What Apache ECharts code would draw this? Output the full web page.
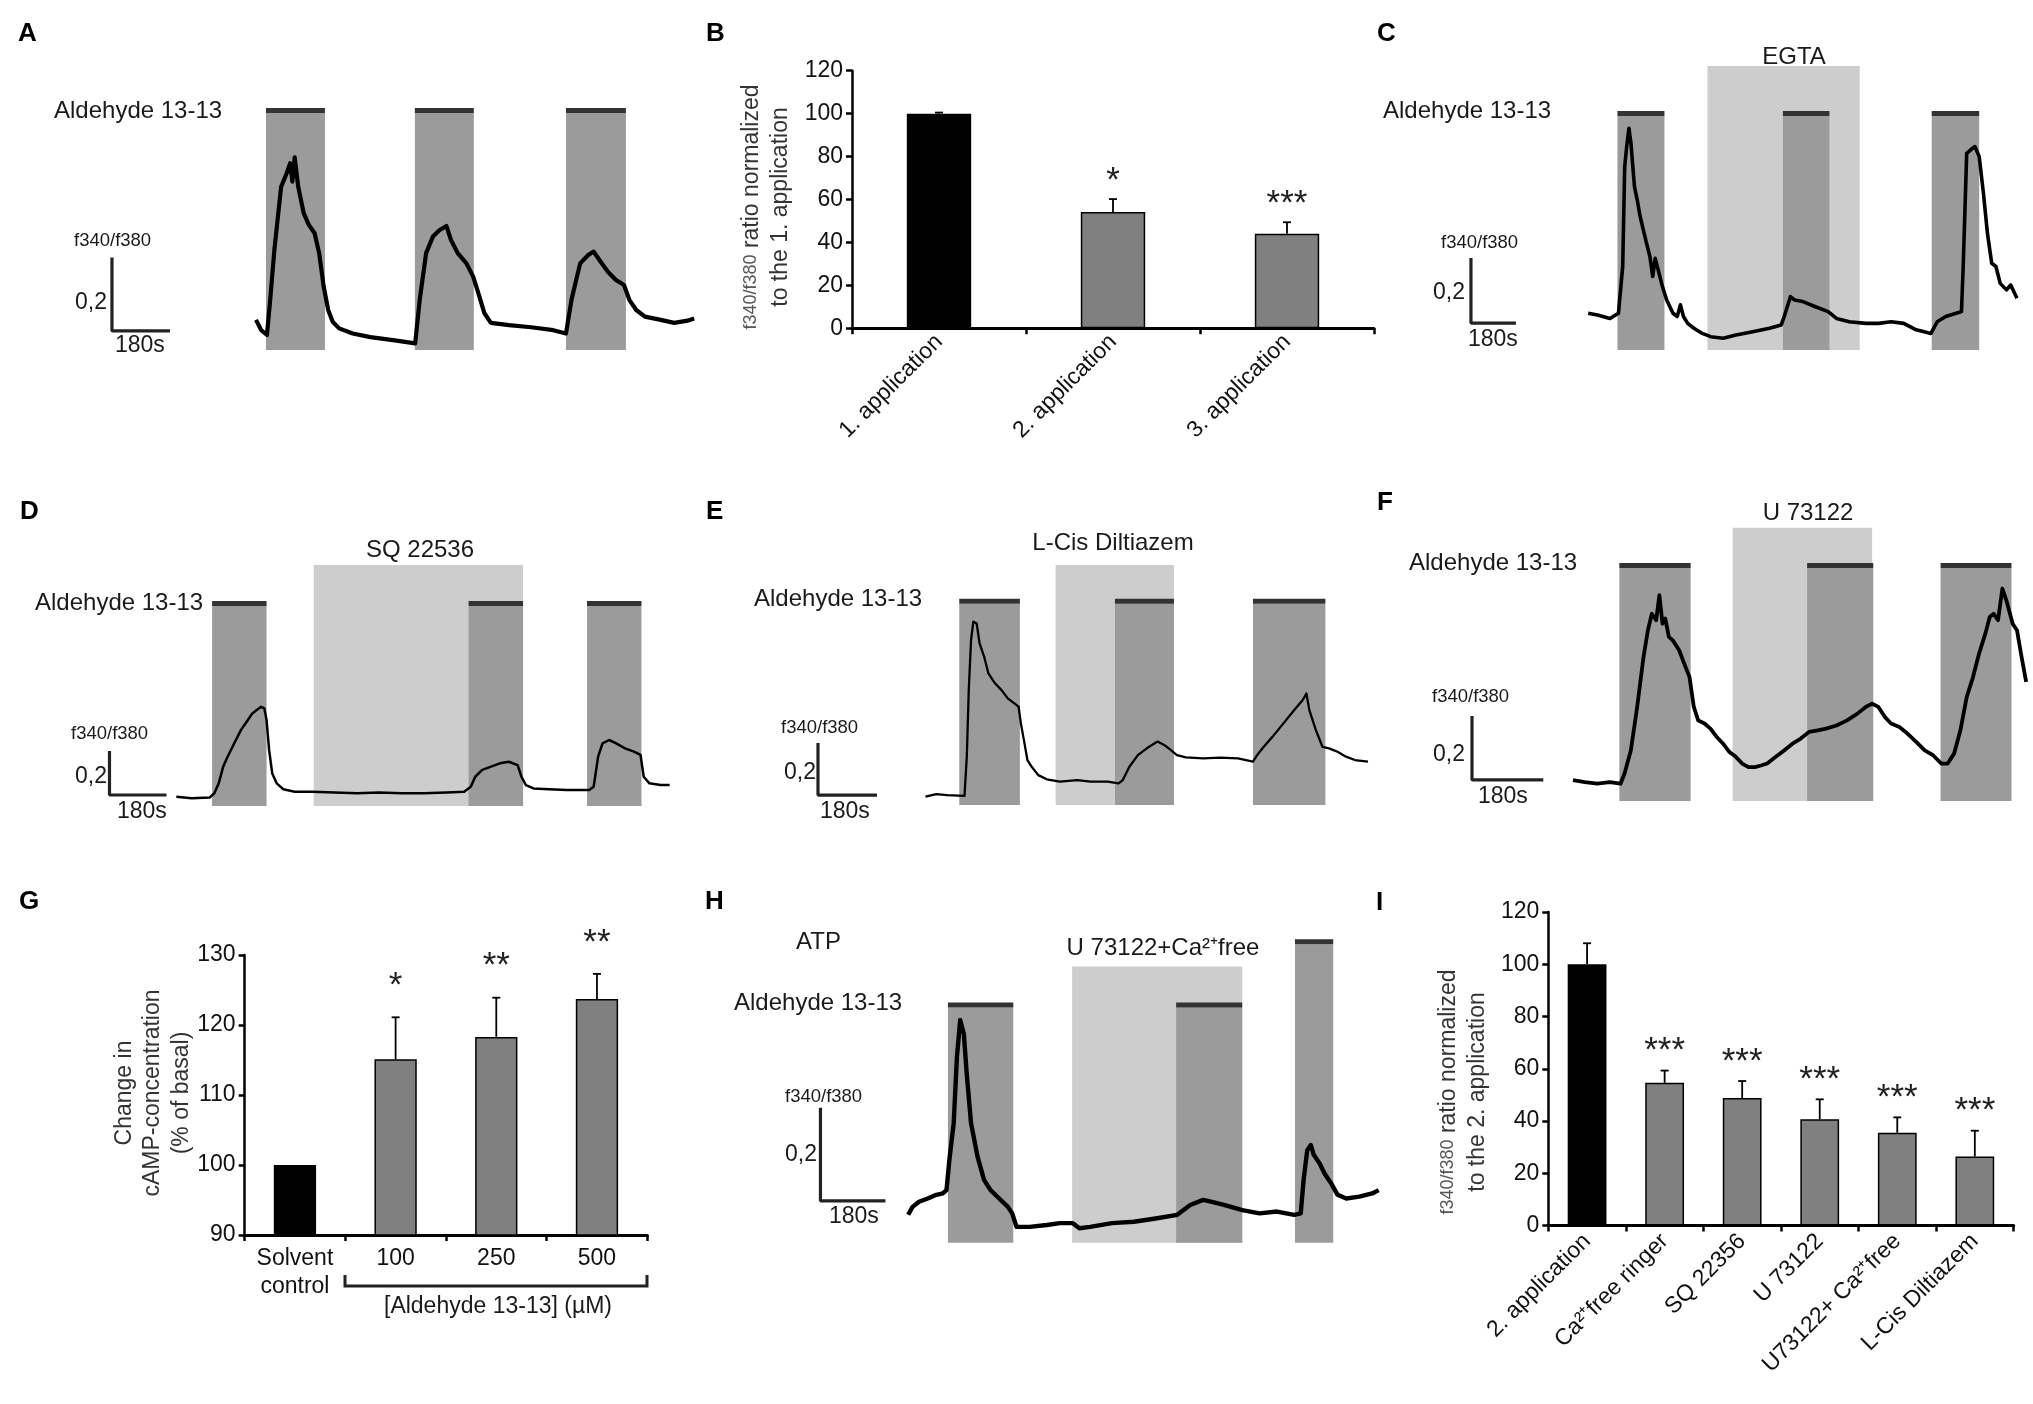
<!DOCTYPE html>
<html>
<head>
<meta charset="utf-8">
<style>
html,body{margin:0;padding:0;background:#fff}
#fig{width:2033px;height:1404px}
</style>
<script src="https://cdn.jsdelivr.net/npm/echarts@6/dist/echarts.min.js"></script>
</head>
<body>
<div id="fig"></div>
<script>
// traces: [time (s), f340/f380 change], application periods in s
var aTrace = [[0,0.082],[16,0.054],[34,0.041],[44,0.136],[57,0.273],[78,0.445],[95,0.481],[106,0.509],[113,0.459],[120,0.525],[131,0.445],[148,0.373],[164,0.341],[182,0.318],[196,0.264],[210,0.173],[224,0.109],[238,0.077],[258,0.059],[300,0.045],[355,0.035],[425,0.027],[494,0.018],[508,0.136],[528,0.264],[549,0.309],[570,0.327],[591,0.338],[605,0.300],[626,0.264],[653,0.236],[674,0.200],[690,0.155],[709,0.100],[729,0.074],[785,0.068],[854,0.062],[923,0.054],[962,0.045],[979,0.136],[1006,0.236],[1031,0.259],[1048,0.268],[1069,0.241],[1092,0.213],[1117,0.191],[1142,0.177],[1159,0.136],[1180,0.109],[1207,0.091],[1256,0.082],[1298,0.074],[1339,0.080],[1360,0.086]];
var aApps = [[31,214],[493,676],[962,1148]];

var cTrace = [[0,0.113],[37,0.108],[87,0.097],[121,0.113],[138,0.257],[146,0.564],[154,0.626],[163,0.682],[171,0.636],[185,0.503],[196,0.462],[208,0.410],[230,0.339],[247,0.287],[258,0.226],[268,0.282],[280,0.246],[297,0.195],[314,0.154],[339,0.113],[356,0.103],[369,0.139],[381,0.103],[398,0.082],[423,0.067],[456,0.051],[490,0.041],[540,0.036],[591,0.046],[658,0.056],[725,0.067],[772,0.077],[784,0.103],[809,0.164],[826,0.154],[859,0.149],[909,0.133],[960,0.118],[993,0.097],[1044,0.087],[1111,0.082],[1161,0.082],[1212,0.087],[1262,0.082],[1312,0.062],[1371,0.051],[1396,0.087],[1430,0.103],[1472,0.113],[1493,0.118],[1500,0.257],[1514,0.605],[1530,0.616],[1547,0.626],[1564,0.595],[1581,0.482],[1597,0.359],[1614,0.267],[1631,0.257],[1648,0.205],[1673,0.185],[1690,0.200],[1715,0.159]];
var cApps = [[117,305],[779,965],[1374,1564]];
var cBox = [477,1086];

var dTrace = [[0,0.042],[49,0.035],[106,0.039],[120,0.058],[134,0.103],[148,0.179],[162,0.224],[183,0.285],[204,0.345],[226,0.391],[240,0.421],[254,0.436],[268,0.451],[278,0.444],[285,0.391],[293,0.255],[303,0.148],[317,0.103],[338,0.076],[374,0.065],[430,0.065],[500,0.061],[571,0.058],[641,0.061],[712,0.058],[782,0.058],[853,0.061],[909,0.065],[930,0.088],[944,0.133],[966,0.164],[994,0.179],[1022,0.194],[1050,0.201],[1078,0.186],[1090,0.133],[1104,0.095],[1128,0.080],[1177,0.076],[1233,0.073],[1304,0.073],[1318,0.088],[1332,0.224],[1346,0.285],[1367,0.300],[1389,0.285],[1417,0.262],[1445,0.247],[1466,0.232],[1476,0.133],[1494,0.103],[1529,0.095],[1558,0.095]];
var dApps = [[113,285],[923,1095],[1297,1469]];
var dBox = [434,1095];

var eTrace = [[0,0.032],[33,0.042],[66,0.038],[119,0.035],[126,0.186],[132,0.442],[139,0.635],[146,0.705],[156,0.699],[165,0.622],[179,0.570],[192,0.506],[212,0.468],[232,0.442],[251,0.410],[271,0.391],[284,0.378],[291,0.314],[302,0.237],[311,0.173],[324,0.147],[344,0.115],[370,0.099],[410,0.090],[463,0.096],[503,0.090],[556,0.090],[589,0.083],[602,0.096],[622,0.147],[648,0.192],[675,0.218],[708,0.244],[728,0.231],[748,0.212],[767,0.192],[794,0.183],[847,0.179],[900,0.182],[953,0.179],[999,0.167],[1012,0.192],[1032,0.224],[1059,0.263],[1092,0.314],[1125,0.365],[1151,0.404],[1162,0.429],[1171,0.365],[1191,0.288],[1211,0.224],[1231,0.218],[1257,0.205],[1283,0.186],[1310,0.173],[1350,0.167]];
var eApps = [[103,288],[578,758],[999,1220]];
var eBox = [397,758];

var fTrace = [[0,0.065],[30,0.059],[61,0.054],[93,0.059],[120,0.054],[130,0.085],[146,0.158],[162,0.294],[178,0.450],[189,0.533],[199,0.585],[210,0.565],[218,0.643],[226,0.554],[233,0.570],[242,0.513],[252,0.502],[268,0.471],[284,0.419],[294,0.388],[305,0.294],[316,0.252],[332,0.242],[347,0.226],[363,0.200],[379,0.179],[395,0.153],[411,0.138],[427,0.117],[443,0.106],[459,0.106],[475,0.111],[490,0.117],[512,0.138],[533,0.158],[554,0.179],[575,0.195],[596,0.216],[618,0.221],[639,0.226],[665,0.236],[692,0.252],[718,0.273],[739,0.294],[755,0.304],[771,0.294],[787,0.263],[803,0.242],[824,0.231],[845,0.210],[867,0.184],[888,0.158],[909,0.143],[930,0.117],[946,0.117],[962,0.148],[978,0.221],[994,0.325],[1010,0.388],[1025,0.460],[1041,0.523],[1052,0.575],[1062,0.585],[1073,0.565],[1084,0.664],[1094,0.627],[1110,0.554],[1121,0.533],[1131,0.460],[1144,0.372]];
var fApps = [[117,297],[591,758],[928,1107]];
var fBox = [403,755];

var hTrace = [[0,0.060],[12,0.077],[30,0.088],[54,0.095],[78,0.103],[96,0.106],[106,0.113],[114,0.178],[126,0.257],[135,0.400],[144,0.479],[154,0.450],[162,0.364],[174,0.257],[192,0.185],[210,0.135],[228,0.113],[252,0.095],[276,0.077],[288,0.063],[300,0.034],[336,0.034],[384,0.038],[420,0.042],[456,0.042],[474,0.031],[504,0.034],[564,0.042],[625,0.045],[685,0.052],[745,0.060],[781,0.081],[817,0.092],[841,0.088],[877,0.081],[925,0.070],[973,0.063],[1021,0.067],[1069,0.060],[1087,0.063],[1095,0.135],[1105,0.199],[1115,0.210],[1123,0.189],[1139,0.171],[1153,0.149],[1171,0.128],[1189,0.103],[1213,0.095],[1249,0.099],[1285,0.106],[1303,0.113]];
var hApps = [[110,291],[742,925]];
var hAtp = [[1071,1177]];
var hBox = [454,925];

// bar panels
var bCats = ['1. application', '2. application', '3. application'];
var bMean = [100, 54.2, 44.1];
var bErr = [0.5, 6, 5.3];
var bStars = ['', '*', '***'];

var gCats = ['Solvent\ncontrol', '100', '250', '500'];
var gMean = [100, 115.1, 118.3, 123.7];
var gErr = [0, 6, 5.6, 3.6];
var gStars = ['', '*', '**', '**'];

var iCats = ['2. application', 'Ca\u00b2\u207afree ringer', 'SQ 22356', 'U 73122', 'U73122+ Ca\u00b2\u207afree', 'L-Cis Diltiazem'];
var iMean = [100, 54.6, 48.8, 40.7, 35.5, 26.4];
var iErr = [8, 4.7, 6.5, 7.6, 5.9, 9.9];
var iStars = ['', '***', '***', '***', '***', '***'];

var SCALE_T = 180, SCALE_R = 0.2;
var FONT = '"Liberation Sans", Arial, sans-serif';
var GRAY = '#9b9b9b', LIGHT = '#cdcdcd', STRIP = '#333333';

// trace panel placement (pixel anchors and scales)
var traces = [
  {g: 0, data: aTrace, apps: aApps, x0: 256, y0: 350, pxs: 58 / 180, pxu: 367, tmin: -480, tmax: 1370, rmax: 0.66, appTop: 0.646, lw: 4.2, sb: [-447, 0.052]},
  {g: 2, data: cTrace, apps: cApps, box: cBox, x0: 1588.2, y0: 350, pxs: 45 / 180, pxu: 325, tmin: -500, tmax: 1760, rmax: 0.88, appTop: 0.720, boxTop: 0.874, lw: 3.6, sb: [-469, 0.083]},
  {g: 3, data: dTrace, apps: dApps, box: dBox, x0: 176.3, y0: 806, pxs: 57 / 180, pxu: 220, tmin: -230, tmax: 1570, rmax: 1.10, appTop: 0.909, boxTop: 1.095, lw: 2.5, sb: [-211, 0.05]},
  {g: 4, data: eTrace, apps: eApps, box: eBox, x0: 925.5, y0: 805, pxs: 59 / 180, pxu: 260, tmin: -340, tmax: 1360, rmax: 0.93, appTop: 0.774, boxTop: 0.923, lw: 2.3, sb: [-328, 0.038]},
  {g: 5, data: fTrace, apps: fApps, box: fBox, x0: 1573, y0: 801, pxs: 71.3 / 180, pxu: 320, tmin: -270, tmax: 1150, rmax: 0.86, appTop: 0.728, boxTop: 0.854, lw: 3.8, sb: [-255, 0.066]},
  {g: 7, data: hTrace, apps: hApps, box: hBox, extra: hAtp, extraTop: 0.642, x0: 908.2, y0: 1242.7, pxs: 65 / 180, pxu: 465, tmin: -250, tmax: 1310, rmax: 0.66, appTop: 0.506, boxTop: 0.594, lw: 4.4, sb: [-243, 0.090]}
];

var grids = [], xAxes = [], yAxes = [], series = [];
function setGrid(i, g) { g.outerBoundsMode = 'none'; g.containLabel = false; grids[i] = g; }

function appAreas(list, top, pxu) {
  var out = [];
  list.forEach(function (p) {
    out.push([{xAxis: p[0], yAxis: 0, itemStyle: {color: GRAY, opacity: 1}}, {xAxis: p[1], yAxis: top}]);
  });
  list.forEach(function (p) {
    out.push([{xAxis: p[0], yAxis: top, itemStyle: {color: STRIP, opacity: 1}}, {xAxis: p[1], yAxis: top + 5 / pxu}]);
  });
  return out;
}

traces.forEach(function (L) {
  setGrid(L.g, {left: L.x0 + L.tmin * L.pxs, top: L.y0 - L.rmax * L.pxu, width: (L.tmax - L.tmin) * L.pxs, height: L.rmax * L.pxu});
  xAxes[L.g] = {type: 'value', gridIndex: L.g, min: L.tmin, max: L.tmax, show: false};
  yAxes[L.g] = {type: 'value', gridIndex: L.g, min: 0, max: L.rmax, show: false};
  var areas = [];
  if (L.box) areas.push([{xAxis: L.box[0], yAxis: 0, itemStyle: {color: LIGHT, opacity: 1}}, {xAxis: L.box[1], yAxis: L.boxTop}]);
  areas = areas.concat(appAreas(L.apps, L.appTop, L.pxu));
  if (L.extra) areas = areas.concat(appAreas(L.extra, L.extraTop, L.pxu));
  series.push({
    type: 'line', xAxisIndex: L.g, yAxisIndex: L.g, data: L.data, symbol: 'none', silent: true, z: 5,
    lineStyle: {color: '#000', width: L.lw, join: 'round'},
    markArea: {silent: true, label: {show: false}, data: areas}
  });
  series.push({
    type: 'line', xAxisIndex: L.g, yAxisIndex: L.g, symbol: 'none', silent: true, z: 5,
    data: [[L.sb[0], L.sb[1] + SCALE_R], [L.sb[0], L.sb[1]], [L.sb[0] + SCALE_T, L.sb[1]]],
    lineStyle: {color: '#222', width: 3.2}
  });
});

function errRender(stars, gap) {
  return function (params, api) {
    var x = api.value(0), lo = api.value(1), hi = api.value(2);
    var p0 = api.coord([x, lo]), p1 = api.coord([x, hi]);
    var ch = [];
    if (hi > lo) {
      ch.push({type: 'line', shape: {x1: p0[0], y1: p0[1], x2: p1[0], y2: p1[1]}, style: {stroke: '#000', lineWidth: 1.8}});
      ch.push({type: 'line', shape: {x1: p1[0] - 4, y1: p1[1], x2: p1[0] + 4, y2: p1[1]}, style: {stroke: '#000', lineWidth: 1.8}});
    }
    var s = stars[params.dataIndex];
    if (s) ch.push({type: 'text', style: {text: s, x: p1[0], y: p1[1] - gap + 8, align: 'center', verticalAlign: 'middle', textAlign: 'center', textVerticalAlign: 'middle', font: '35px ' + FONT, fill: '#222'}});
    return {type: 'group', children: ch};
  };
}

function barPanel(gi, box, cats, mean, err, stars, o) {
  setGrid(gi, box);
  xAxes[gi] = {
    type: 'category', gridIndex: gi, data: cats,
    axisLine: {show: true, lineStyle: {color: '#000', width: 3}},
    axisTick: {show: true, length: 6, interval: 0, lineStyle: {color: '#000', width: 2.5}},
    axisLabel: {interval: 0, rotate: o.rotate, margin: o.xMargin, fontSize: o.fs, fontFamily: FONT, color: '#111', lineHeight: 28},
    splitLine: {show: false}
  };
  yAxes[gi] = {
    type: 'value', gridIndex: gi, min: o.min, max: o.max, interval: o.step,
    axisLine: {show: true, lineStyle: {color: '#000', width: 2.5}},
    axisTick: {show: true, length: 6, lineStyle: {color: '#000', width: 2.5}},
    axisLabel: {margin: 9, fontSize: o.fs, fontFamily: FONT, color: '#111'},
    splitLine: {show: false}
  };
  series.push({
    type: 'bar', xAxisIndex: gi, yAxisIndex: gi, data: mean, barWidth: o.bw, silent: true,
    itemStyle: {color: function (p) { return p.dataIndex === 0 ? '#000' : '#808080'; }, borderColor: '#000', borderWidth: 1.5}
  });
  series.push({
    type: 'custom', xAxisIndex: gi, yAxisIndex: gi, silent: true, z: 4,
    data: mean.map(function (m, i) { return [i, m, m + err[i]]; }),
    renderItem: errRender(stars, o.gap)
  });
}

barPanel(1, {left: 852, top: 70.7, width: 522, height: 257.6}, bCats, bMean, bErr, bStars,
  {min: 0, max: 120, step: 20, bw: '37%', rotate: 45, xMargin: 10, fs: 23, gap: 26});
barPanel(6, {left: 244.6, top: 955, width: 402.7, height: 280}, gCats, gMean, gErr, gStars,
  {min: 90, max: 130, step: 10, bw: '42%', rotate: 0, xMargin: 10, fs: 23, gap: 39});
barPanel(8, {left: 1548.3, top: 911.9, width: 465.3, height: 313.7}, iCats, iMean, iErr, iStars,
  {min: 0, max: 120, step: 20, bw: '50%', rotate: 45, xMargin: 12, fs: 23, gap: 27});

// text annotations
function label(text, x, y, o) {
  o = o || {};
  var st = {
    text: text, fill: o.color || '#1a1a1a',
    font: (o.bold ? 'bold ' : '') + (o.size || 24) + 'px ' + FONT,
    align: o.align || 'left', verticalAlign: 'middle',
    textAlign: o.align || 'left', textVerticalAlign: 'middle'
  };
  if (o.lh) st.lineHeight = o.lh;
  if (o.rich) st.rich = o.rich;
  return {type: 'text', x: x, y: y, rotation: o.rot || 0, silent: true, z: 100, style: st};
}

var gr = [];
[['A', 18, 34], ['B', 706, 34], ['C', 1377, 34], ['D', 20, 512], ['E', 706, 512], ['F', 1377, 503],
 ['G', 19, 902], ['H', 705, 902], ['I', 1376, 903]].forEach(function (l) {
  gr.push(label(l[0], l[1], l[2], {bold: true, size: 26, color: '#000'}));
});
[[54, 111], [1383, 111], [35, 603], [754, 599], [1409, 563], [734, 1003]].forEach(function (p) {
  gr.push(label('Aldehyde 13-13', p[0], p[1]));
});
[['EGTA', 1794, 57], ['SQ 22536', 420, 550], ['L-Cis Diltiazem', 1113, 543], ['U 73122', 1808, 513],
 ['U 73122+Ca\u00b2\u207afree', 1163, 948]].forEach(function (l) {
  gr.push(label(l[0], l[1], l[2], {align: 'center'}));
});
gr.push(label('ATP', 796, 942));
[[74, 241, 107, 303, 115, 346], [1441, 243, 1465, 293, 1468, 340], [71, 734, 107, 777, 117, 812],
 [781, 728, 816, 773, 820, 812], [1432, 697, 1465, 755, 1478, 797], [785, 1097, 817, 1155, 829, 1217]].forEach(function (s) {
  gr.push(label('f340/f380', s[0], s[1], {size: 18.5}));
  gr.push(label('0,2', s[2], s[3], {align: 'right', size: 23}));
  gr.push(label('180s', s[4], s[5], {size: 23}));
});

var fRich = {s: {fontSize: 18, fontFamily: 'Liberation Sans', fill: '#555', lineHeight: 29}};
gr.push(label('{s|f340/f380} ratio normalized\nto the 1. application', 766, 207,
  {rot: Math.PI / 2, align: 'center', lh: 29, rich: fRich, color: '#333', size: 23}));
gr.push(label('{s|f340/f380} ratio normalized\nto the 2. application', 1463, 1092,
  {rot: Math.PI / 2, align: 'center', lh: 29, rich: fRich, color: '#333', size: 23}));
gr.push(label('Change in\ncAMP-concentration\n(% of basal)', 153, 1093,
  {rot: Math.PI / 2, align: 'center', lh: 28.5, color: '#333', size: 23}));
gr.push({type: 'polyline', silent: true, z: 100,
  shape: {points: [[345, 1275], [345, 1286], [647, 1286], [647, 1275]]},
  style: {stroke: '#222', lineWidth: 3, fill: null}});
gr.push(label('[Aldehyde 13-13] (\u00b5M)', 498, 1307, {align: 'center', size: 23}));

var chart = echarts.init(document.getElementById('fig'), null, {renderer: 'canvas'});
chart.setOption({
  animation: false,
  backgroundColor: '#fff',
  grid: grids,
  xAxis: xAxes,
  yAxis: yAxes,
  series: series,
  graphic: {elements: gr}
});
</script>
</body>
</html>
